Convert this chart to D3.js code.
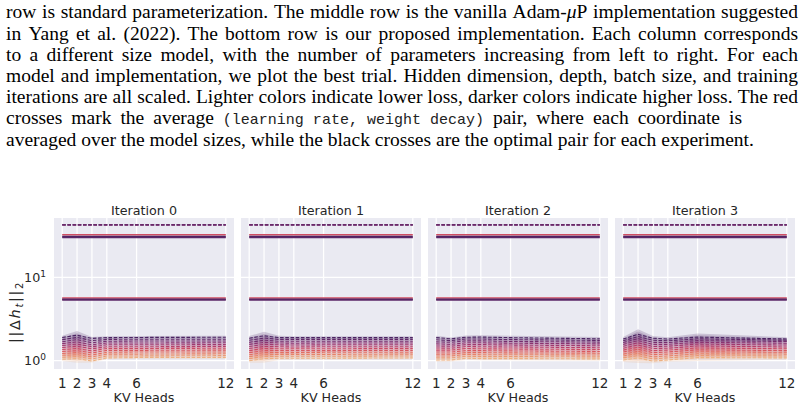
<!DOCTYPE html>
<html><head><meta charset="utf-8">
<script src="https://cdn.jsdelivr.net/npm/d3@7"></script>
<style>body{margin:0;background:#fff}</style>
</head><body><svg id="c" width="804" height="407" xmlns="http://www.w3.org/2000/svg"></svg>
<script>
// ---------------- DATA ----------------
const captionLines = [
  "row is standard parameterization. The middle row is the vanilla Adam-_μ_P implementation suggested",
  "in Yang et al. (2022). The bottom row is our proposed implementation. Each column corresponds",
  "to a different size model, with the number of parameters increasing from left to right. For each",
  "model and implementation, we plot the best trial. Hidden dimension, depth, batch size, and training",
  "iterations are all scaled. Lighter colors indicate lower loss, darker colors indicate higher loss. The red",
  "crosses mark the average `(learning rate, weight decay)` pair, where each coordinate is",
  "averaged over the model sizes, while the black crosses are the optimal pair for each experiment."
];
const titles = ["Iteration 0", "Iteration 1", "Iteration 2", "Iteration 3"];
const kvHeads = [1, 2, 3, 4, 6, 12];
const xTickLabels = ["1", "2", "3", "4", "6", "12"];
const yTicks = [1, 10];
const yDomain = [0.795, 51.4];

// bundle series (lightest -> darkest), values at each KV head
const bundle0 = [
 [1.04,1.06,0.99,1.08,1.09,1.09],
 [1.10,1.12,1.05,1.14,1.14,1.15],
 [1.16,1.18,1.11,1.20,1.20,1.21],
 [1.22,1.25,1.17,1.26,1.27,1.27],
 [1.29,1.32,1.24,1.33,1.33,1.34],
 [1.36,1.40,1.31,1.40,1.40,1.41],
 [1.44,1.49,1.39,1.47,1.47,1.48],
 [1.52,1.58,1.47,1.55,1.55,1.56],
 [1.60,1.68,1.55,1.63,1.63,1.64],
 [1.69,1.79,1.64,1.71,1.72,1.72],
 [1.79,1.90,1.74,1.80,1.81,1.81],
 [1.90,2.02,1.85,1.89,1.90,1.91]
];
const bundle1 = [
 [1.00,1.06,1.07,1.07,1.07,1.08],
 [1.06,1.12,1.13,1.13,1.13,1.14],
 [1.12,1.18,1.19,1.19,1.19,1.20],
 [1.18,1.25,1.25,1.25,1.26,1.26],
 [1.25,1.32,1.32,1.32,1.32,1.33],
 [1.32,1.40,1.39,1.39,1.39,1.40],
 [1.40,1.48,1.47,1.46,1.47,1.47],
 [1.48,1.57,1.55,1.54,1.55,1.55],
 [1.57,1.66,1.63,1.62,1.63,1.63],
 [1.66,1.76,1.71,1.71,1.71,1.71],
 [1.76,1.87,1.80,1.80,1.80,1.80],
 [1.86,1.99,1.89,1.89,1.89,1.89]
];
const bundle2 = [
 [1.02,1.02,1.07,1.06,1.06,1.05],
 [1.08,1.08,1.13,1.12,1.12,1.11],
 [1.14,1.14,1.19,1.18,1.18,1.17],
 [1.20,1.20,1.25,1.25,1.24,1.23],
 [1.27,1.27,1.32,1.32,1.31,1.29],
 [1.34,1.34,1.40,1.39,1.38,1.36],
 [1.42,1.41,1.48,1.47,1.46,1.43],
 [1.50,1.49,1.56,1.56,1.54,1.51],
 [1.59,1.57,1.64,1.64,1.62,1.59],
 [1.68,1.66,1.73,1.73,1.70,1.67],
 [1.78,1.74,1.82,1.82,1.79,1.75],
 [1.89,1.83,1.91,1.92,1.89,1.83]
];
const bundle3 = [
 [1.02,1.08,0.99,1.02,1.09,1.08],
 [1.08,1.15,1.05,1.08,1.15,1.14],
 [1.14,1.22,1.11,1.14,1.21,1.20],
 [1.20,1.29,1.18,1.20,1.28,1.26],
 [1.27,1.37,1.25,1.27,1.35,1.32],
 [1.34,1.45,1.32,1.34,1.42,1.39],
 [1.41,1.54,1.40,1.41,1.50,1.46],
 [1.49,1.64,1.48,1.49,1.58,1.54],
 [1.57,1.74,1.57,1.57,1.66,1.62],
 [1.65,1.84,1.66,1.65,1.74,1.70],
 [1.73,1.95,1.76,1.73,1.83,1.76],
 [1.82,2.07,1.86,1.82,1.92,1.82]
];
const bundles = [bundle0, bundle1, bundle2, bundle3];
// confidence band half-width (multiplicative) at each KV head
const band0 = [1.05,1.12,1.04,1.04,1.04,1.04];
const band1 = [1.06,1.12,1.05,1.04,1.04,1.04];
const band2 = [1.05,1.04,1.05,1.05,1.05,1.05];
const band3 = [1.06,1.15,1.06,1.05,1.10,1.05];
const bands = [band0, band1, band2, band3];
const bundleHue = [0.0,0.09,0.18,0.27,0.36,0.45,0.55,0.64,0.73,0.82,0.91,1.0];

// upper (flat) series
const upperSeries = [
 [42.6,42.6,42.6,42.6,42.6,42.6],
 [42.3,42.3,42.3,42.3,42.3,42.3],
 [32.4,32.4,32.4,32.4,32.4,32.4],
 [30.9,30.9,30.9,30.9,30.9,30.9],
 [30.1,30.1,30.1,30.1,30.1,30.1],
 [5.65,5.65,5.65,5.65,5.65,5.65],
 [5.45,5.45,5.45,5.45,5.45,5.45],
 [5.34,5.34,5.34,5.34,5.34,5.34]
];
const upperHue = [1.0, 0.82, 0.42, 1.0, 0.93, 0.42, 1.0, 0.93];

// ---------------- DRAW ----------------
const svg = d3.select("#c");
const flare = d3.scaleSequential(d3.interpolateRgbBasis(
  ["#EDB081","#E98D6B","#E3685C","#D14A61","#B13C6C","#8F3371","#6C2B6D","#4B2362"])).domain([0,1]);

// caption paragraph (justified; line 6 is short in the original, last line is ragged)
const capX = 6, capY0 = 18.3, capLH = 21.2, capFS = 19.5;
const capWidths = [792, 792, 792, 792, 792, 736, 0];
captionLines.forEach((line, li) => {
  const toks = line.match(/`[^`]*`|\S+/g);
  const y = capY0 + li * capLH;
  const nodes = toks.map(tok => {
    const t = svg.append("text").attr("y", y).attr("font-size", capFS)
      .attr("font-family", "'Liberation Serif', 'Times New Roman', serif").attr("fill", "#000");
    if (tok.startsWith("`")) {
      t.append("tspan").attr("font-family", "'Liberation Mono', 'DejaVu Sans Mono', monospace")
        .attr("font-size", 15).attr("fill", "#222").style("white-space", "pre")
        .text(tok.slice(1, -1));
    } else {
      tok.split("_").forEach((p, k) => {
        if (!p) return;
        const s = t.append("tspan").text(p);
        if (k % 2 === 1) s.attr("font-style", "italic");
      });
    }
    return t;
  });
  const widths = nodes.map(n => n.node().getComputedTextLength());
  const total = d3.sum(widths);
  const gap = capWidths[li] ? (capWidths[li] - total) / (toks.length - 1) : capFS * 0.25;
  let x = capX;
  nodes.forEach((n, i) => { n.attr("x", x); x += widths[i] + gap; });
});

// panels
const pLeft = [54, 241, 428, 615], pW = 180, pTop = 218, pBot = 369;
const y = d3.scaleLog().domain(yDomain).range([pBot, pTop]);
const textCol = "#262626";

titles.forEach((title, pi) => {
  const x = d3.scaleLinear().domain([kvHeads[0] - 0.55, kvHeads[kvHeads.length-1] + 0.55])
    .range([pLeft[pi], pLeft[pi] + pW]);
  const g = svg.append("g");
  g.append("rect").attr("x", pLeft[pi]).attr("y", pTop).attr("width", pW).attr("height", pBot - pTop)
    .attr("fill", "#EAEAF2");
  g.selectAll(".vg").data(kvHeads).enter().append("line")
    .attr("x1", d => x(d)).attr("x2", d => x(d)).attr("y1", pTop).attr("y2", pBot)
    .attr("stroke", "#fff").attr("stroke-width", 1.25);
  g.selectAll(".hg").data(yTicks).enter().append("line")
    .attr("x1", pLeft[pi]).attr("x2", pLeft[pi] + pW).attr("y1", d => y(d)).attr("y2", d => y(d))
    .attr("stroke", "#fff").attr("stroke-width", 1.25);

  const clip = "clip" + pi;
  svg.append("clipPath").attr("id", clip).append("rect")
    .attr("x", pLeft[pi]).attr("y", pTop).attr("width", pW).attr("height", pBot - pTop);
  const plot = g.append("g").attr("clip-path", `url(#${clip})`);

  const bw = bands[pi];
  const area = d3.area().x((d, i) => x(kvHeads[i]))
    .y0((d, i) => y(d / bw[i])).y1((d, i) => y(d * bw[i]));
  const line = d3.line().x((d, i) => x(kvHeads[i])).y(d => y(d));

  bundles[pi].forEach((s, si) => {
    plot.append("path").attr("d", area(s)).attr("fill", flare(bundleHue[si])).attr("fill-opacity", 0.2);
  });
  bundles[pi].forEach((s, si) => {
    plot.append("path").attr("d", line(s)).attr("fill", "none").attr("stroke", flare(bundleHue[si]))
      .attr("stroke-width", 1.1).attr("stroke-dasharray", "3.6,1.6");
  });
  upperSeries.forEach((s, si) => {
    plot.append("path").attr("d", line(s)).attr("fill", "none").attr("stroke", flare(upperHue[si]))
      .attr("stroke-width", 1.5).attr("stroke-dasharray", si < 2 ? "3.6,1.6" : null);
  });

  g.append("text").attr("x", pLeft[pi] + pW / 2).attr("y", 214.5).attr("text-anchor", "middle")
    .attr("font-family", "'DejaVu Sans', sans-serif").attr("font-size", 12.7).attr("fill", textCol).text(title);
  g.selectAll(".xt").data(kvHeads).enter().append("text")
    .attr("x", d => x(d)).attr("y", 388).attr("text-anchor", "middle")
    .attr("font-family", "'DejaVu Sans', sans-serif").attr("font-size", 13.5).attr("fill", textCol)
    .text((d, i) => xTickLabels[i]);
  g.append("text").attr("x", pLeft[pi] + pW / 2).attr("y", 401.5).attr("text-anchor", "middle")
    .attr("font-family", "'DejaVu Sans', sans-serif").attr("font-size", 12.7).attr("fill", textCol).text("KV Heads");
});

// y tick labels (first panel only)
yTicks.forEach(v => {
  const t = svg.append("text").attr("x", 46).attr("y", y(v) + 4.8).attr("text-anchor", "end")
    .attr("font-family", "'DejaVu Sans', sans-serif").attr("font-size", 12.7).attr("fill", textCol);
  t.append("tspan").text("10");
  t.append("tspan").attr("dy", -5.5).attr("font-size", 9).text(String(Math.round(Math.log10(v))));
});

// y label
const yl = svg.append("text").attr("transform", "translate(20,312) rotate(-90)").attr("text-anchor", "middle")
  .attr("font-family", "'DejaVu Sans', sans-serif").attr("font-size", 14.5).attr("fill", textCol)
  .attr("letter-spacing", 1.6);
yl.append("tspan").text("||Δ");
yl.append("tspan").attr("font-style", "italic").text("h");
yl.append("tspan").attr("font-style", "italic").attr("font-size", 10).attr("dy", 3).text("t");
yl.append("tspan").attr("dy", -3).text("||");
yl.append("tspan").attr("font-size", 10).attr("dy", 3).text("2");
</script>
</body></html>
